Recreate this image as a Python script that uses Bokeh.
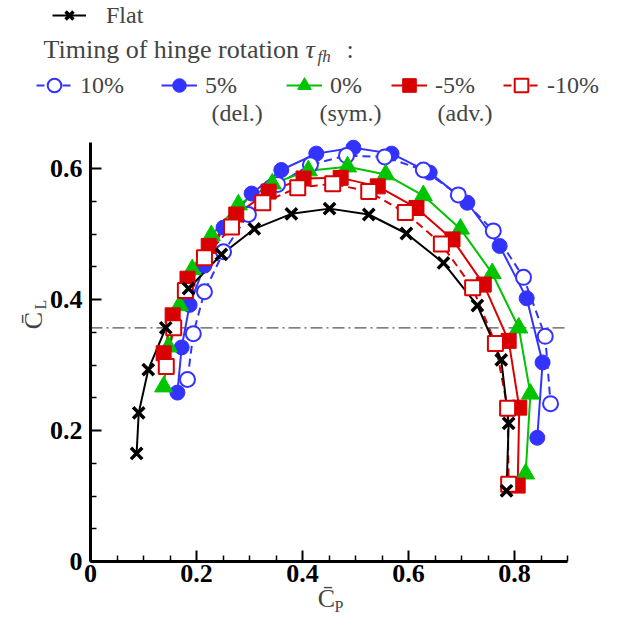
import math
from bokeh.plotting import figure
from bokeh.models import Legend, LegendItem, Label, FixedTicker, Range1d
from bokeh.embed import file_html
from bokeh.resources import INLINE

# ---- data ----
flat_cp = [0.087, 0.091, 0.109, 0.142, 0.185, 0.247, 0.309, 0.379, 0.451, 0.525, 0.596, 0.666, 0.730, 0.775, 0.789, 0.785]
flat_cl = [0.165, 0.227, 0.293, 0.357, 0.417, 0.469, 0.508, 0.531, 0.539, 0.530, 0.501, 0.456, 0.391, 0.308, 0.211, 0.108]

p10_cp = [0.183, 0.194, 0.215, 0.251, 0.298, 0.353, 0.415, 0.483, 0.555, 0.628, 0.694, 0.760, 0.817, 0.858, 0.868]
p10_cl = [0.278, 0.348, 0.412, 0.473, 0.530, 0.576, 0.606, 0.620, 0.618, 0.598, 0.560, 0.505, 0.434, 0.344, 0.241]

p5_cp = [0.164, 0.172, 0.187, 0.215, 0.251, 0.304, 0.360, 0.426, 0.496, 0.568, 0.640, 0.711, 0.772, 0.823, 0.853, 0.843]
p5_cl = [0.258, 0.327, 0.392, 0.452, 0.510, 0.562, 0.598, 0.623, 0.632, 0.623, 0.594, 0.548, 0.482, 0.402, 0.304, 0.189]

p0_cp = [0.138, 0.147, 0.168, 0.192, 0.228, 0.279, 0.343, 0.411, 0.485, 0.557, 0.628, 0.698, 0.758, 0.808, 0.830, 0.821]
p0_cl = [0.267, 0.328, 0.391, 0.446, 0.498, 0.545, 0.577, 0.597, 0.603, 0.591, 0.559, 0.508, 0.440, 0.357, 0.256, 0.134]

m5_cp = [0.138, 0.155, 0.183, 0.223, 0.275, 0.336, 0.402, 0.472, 0.542, 0.615, 0.683, 0.742, 0.789, 0.809, 0.806]
m5_cl = [0.318, 0.376, 0.432, 0.482, 0.530, 0.565, 0.585, 0.586, 0.573, 0.540, 0.492, 0.423, 0.337, 0.235, 0.116]

m10_cp = [0.143, 0.157, 0.179, 0.215, 0.266, 0.325, 0.391, 0.457, 0.525, 0.594, 0.662, 0.721, 0.764, 0.787, 0.789]
m10_cl = [0.298, 0.357, 0.414, 0.464, 0.511, 0.548, 0.571, 0.577, 0.565, 0.533, 0.485, 0.418, 0.333, 0.234, 0.118]

ref_cl = 0.357

x_bounds = (0, 0.9)
y_bounds = (0, 0.64)
x_major = [0, 0.2, 0.4, 0.6, 0.8]
x_minor = [0.05, 0.1, 0.15, 0.25, 0.3, 0.35, 0.45, 0.5, 0.55, 0.65, 0.7, 0.75, 0.85, 0.9]
y_major = [0, 0.2, 0.4, 0.6]
y_minor = [0.05, 0.1, 0.15, 0.25, 0.3, 0.35, 0.45, 0.5, 0.55]
x_labels = {0: "0", 0.2: "0.2", 0.4: "0.4", 0.6: "0.6", 0.8: "0.8"}
y_labels = {0: "0", 0.2: "0.2", 0.4: "0.4", 0.6: "0.6"}

BLUE = "#3333ff"
GREEN = "#00c400"
RED = "#d80000"
SERIF = "Liberation Serif"

W, H = 627, 625
FL, FB, FR, FT = 90, 561, 567, 142  # plotting box in canvas pixels
sx_per = (FR - FL) / (x_bounds[1] - x_bounds[0])
sy_per = (FB - FT) / (y_bounds[1] - y_bounds[0])

p = figure(width=W, height=H,
           x_range=Range1d(x_bounds[0] - FL / sx_per, x_bounds[0] + (W - FL) / sx_per),
           y_range=Range1d(y_bounds[0] - (H - FB) / sy_per, y_bounds[0] + FB / sy_per),
           output_backend="svg", toolbar_location=None, min_border=0)
p.outline_line_color = None
p.grid.visible = False
p.background_fill_color = "white"
p.border_fill_color = "white"

for ax, major, minor, labs, bnds in ((p.xaxis[0], x_major, x_minor, x_labels, x_bounds),
                                     (p.yaxis[0], y_major, y_minor, y_labels, y_bounds)):
    ax.fixed_location = 0
    ax.bounds = bnds
    ax.ticker = FixedTicker(ticks=major, minor_ticks=minor)
    ax.major_label_overrides = labs
    ax.axis_line_width = 3
    ax.axis_line_color = "black"
    ax.major_tick_in = 11
    ax.major_tick_out = 0
    ax.minor_tick_in = 6
    ax.minor_tick_out = 0
    ax.major_tick_line_width = 2
    ax.minor_tick_line_width = 1.5
    ax.major_label_text_font = SERIF
    ax.major_label_text_font_style = "bold"
    ax.major_label_text_font_size = "26px"
    ax.major_label_text_color = "black"
p.xaxis.major_label_standoff = 3
p.yaxis.major_label_standoff = 8

# dash-dot reference line across the axis extent
p.line(list(x_bounds), [ref_cl, ref_cl], line_color="#555555", line_width=1.2, line_dash="12 4 2 4")

MS = 15
r10l = p.line(p10_cp, p10_cl, line_color=BLUE, line_width=2, line_dash="8 5")
r5l = p.line(p5_cp, p5_cl, line_color=BLUE, line_width=2)
r0l = p.line(p0_cp, p0_cl, line_color=GREEN, line_width=2)
rm5l = p.line(m5_cp, m5_cl, line_color=RED, line_width=2)
rm10l = p.line(m10_cp, m10_cl, line_color=RED, line_width=2, line_dash="8 5")
rfl = p.line(flat_cp, flat_cl, line_color="black", line_width=2)

r5p = p.scatter(p5_cp, p5_cl, marker="circle", size=MS, fill_color=BLUE, line_color=BLUE)
r10p = p.scatter(p10_cp, p10_cl, marker="circle", size=MS, fill_color="white", line_color=BLUE, line_width=2)
r0p = p.scatter(p0_cp, p0_cl, marker="triangle", size=MS + 3, fill_color=GREEN, line_color=GREEN)
rm5p = p.scatter(m5_cp, m5_cl, marker="square", size=MS, fill_color=RED, line_color=RED)
rm10p = p.scatter(m10_cp, m10_cl, marker="square", size=MS, fill_color="white", line_color=RED, line_width=2)
rfp = p.scatter(flat_cp, flat_cl, marker="x", size=MS + 1, line_color="black", line_width=3.5)


def add_leg(label, rends, left_px, center_py, standoff=8, gw=36, gh=34):
    # legend location is the bottom-left corner of the legend box
    leg = Legend(items=[LegendItem(label=label, renderers=rends)],
                 location=(left_px, H - (center_py + gh / 2)),
                 border_line_alpha=0, background_fill_alpha=0, padding=0, margin=0,
                 glyph_width=gw, glyph_height=gh, label_height=gh, label_standoff=standoff,
                 label_text_font=SERIF, label_text_font_size="24px")
    p.add_layout(leg, "center")


add_leg("Flat", [rfl, rfp], 52, 15, standoff=20, gw=34, gh=28)
add_leg("10%", [r10l, r10p], 36, 85)
add_leg("5%", [r5l, r5p], 161, 85)
add_leg("0%", [r0l, r0p], 286, 85)
add_leg("-5%", [rm5l, rm5p], 391, 85)
add_leg("-10%", [rm10l, rm10p], 503, 85)


def add_text(txt, px, py, size="24px", style="normal", align="left", angle=0.0):
    p.add_layout(Label(x=px, y=H - py, x_units="screen", y_units="screen", text=txt,
                       text_font=SERIF, text_font_size=size, text_font_style=style,
                       text_align=align, text_baseline="middle", angle=angle))


add_text("Timing of hinge rotation", 43, 49, size="26px")
add_text("τ", 305, 49, size="26px", style="italic")
add_text("fh", 317, 56, size="17px", style="italic")
add_text(":", 346, 49, size="26px")
add_text("(del.)", 211, 112)
add_text("(sym.)", 319, 112)
add_text("(adv.)", 437, 112)

# axis titles
add_text("C\u0304", 326, 598, size="26px", align="center")
add_text("P", 334, 606, size="16px", align="left")
add_text("C\u0304", 33, 320, size="26px", align="center", angle=math.pi / 2)
add_text("L", 40, 309, size="16px", align="left", angle=math.pi / 2)

open("out.html", "w").write(file_html(p, INLINE))
